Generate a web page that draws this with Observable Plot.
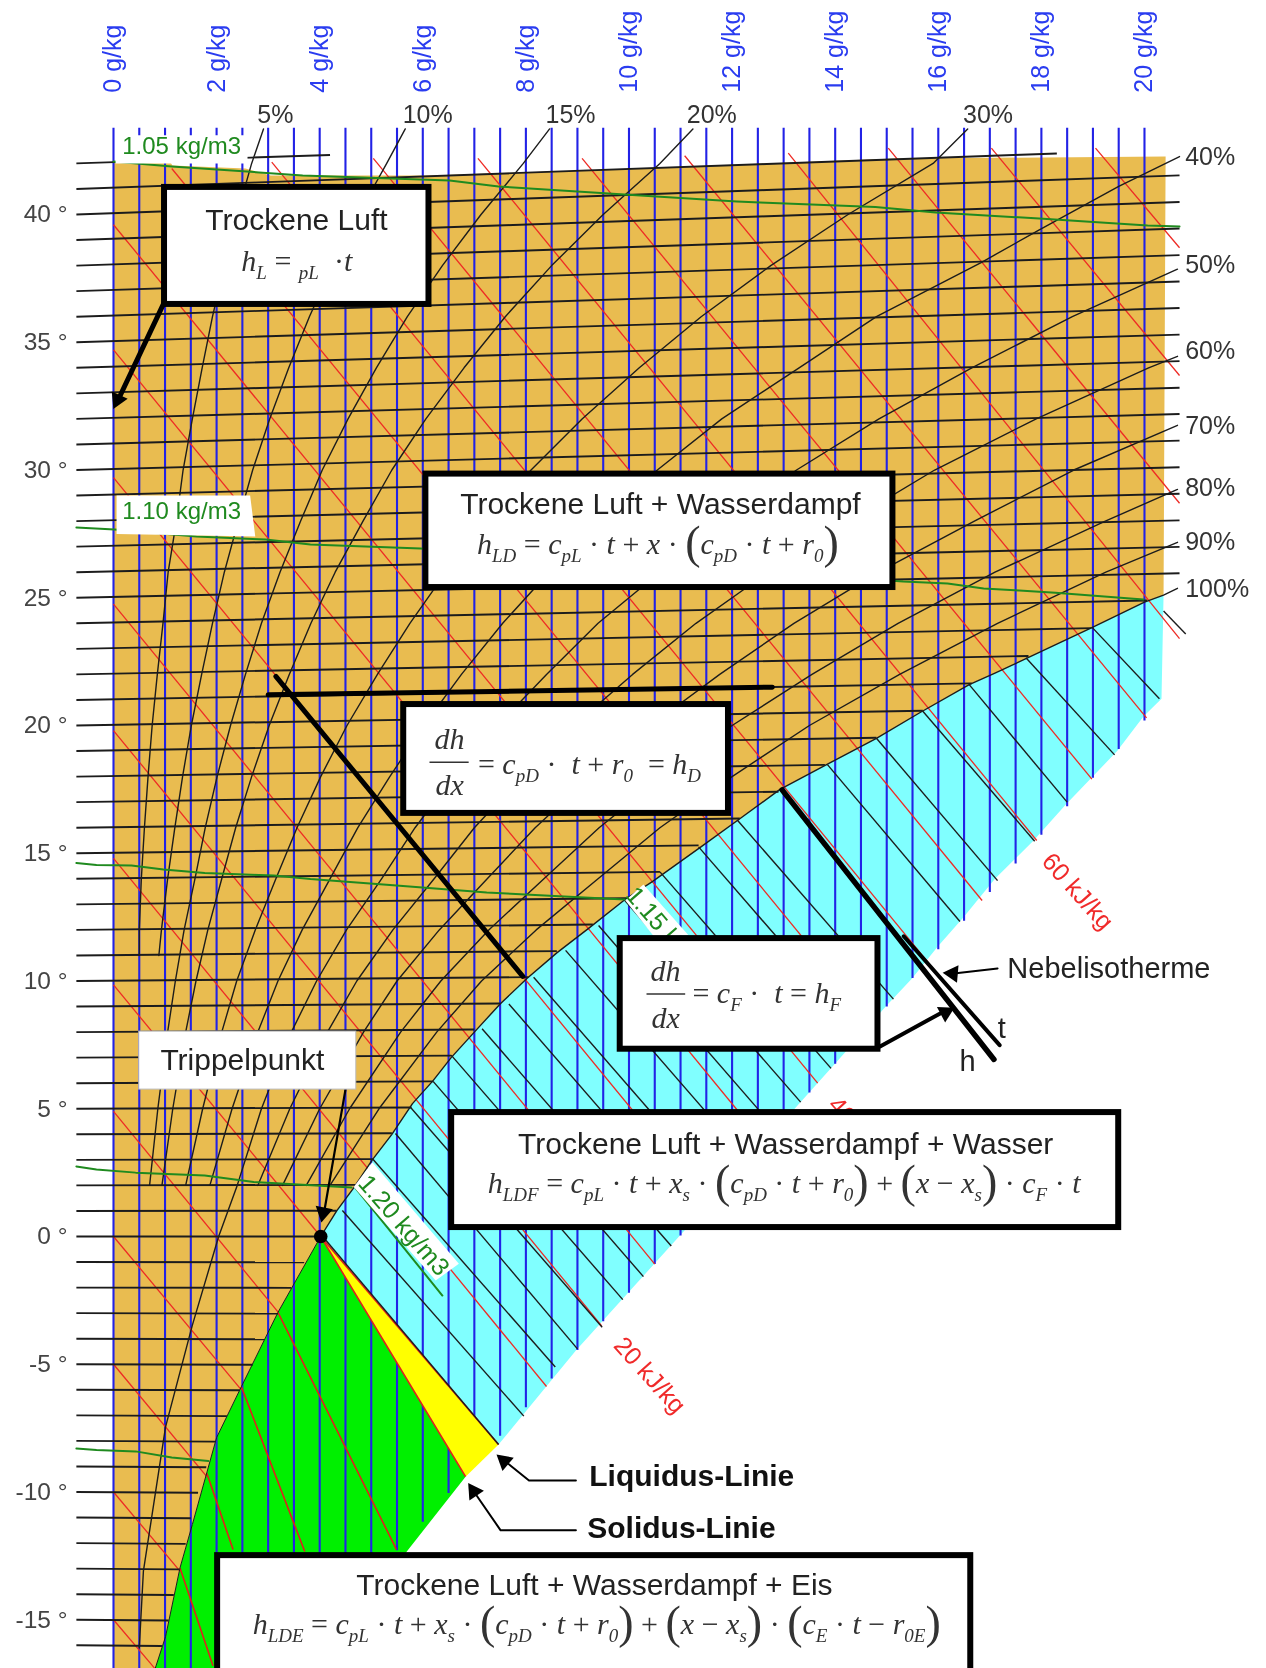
<!DOCTYPE html>
<html><head><meta charset="utf-8">
<script src="https://cdn.jsdelivr.net/npm/d3@7"></script>
<script src="https://cdn.jsdelivr.net/npm/@observablehq/plot@0.6"></script>
<style>html,body{margin:0;padding:0;background:#fff}svg{display:block;filter:blur(0.45px)}</style>
</head><body><div id="chart"></div>
<script>
// --- grid values: x in g/kg, Y in degrees of the chart's vertical axis
const blueX=[0,.5,1,1.5,2,2.5,3,3.5,4,4.5,5,5.5,6,6.5,7,7.5,8,8.5,9,9.5,10,10.5,11,11.5,12,12.5,13,13.5,14,14.5,15,15.5,16,16.5,17,17.5,18,18.5,19,19.5,20];
const blueBottom=[-17,-17,-17,-17,-17,-17,-17,-16.76,-15.64,-14.52,-13.4,-12.28,-11.16,-10.04,-8.92,-7.8,-6.68,-5.56,-4.44,-3.32,-2.2,-1.08,.04,1.16,2.28,3.4,4.52,5.64,6.76,7.88,9,10.12,11.24,12.36,13.48,14.6,15.72,16.84,17.96,19.08,20.2];
const blueTop=43.4;
const isoT=[42,41,40,39,38,37,36,35,34,33,32,31,30,29,28,27,26,25,24,23,22,21,20,19,18,17,16,15,14,13,12,11,10,9,8,7,6,5,4,3,2,1,0,-1,-2,-3,-4,-5,-6,-7,-8,-9,-10,-11,-12,-13,-14,-15,-16];
const isoXEnd=[4.2,18.3,20.68,20.68,20.68,20.68,20.68,20.68,20.68,20.68,20.68,20.68,20.68,20.68,20.68,20.68,20.68,20.68,20.05,18.97,17.75,16.65,15.7,14.8,13.8,12.9,12.15,11.35,10.6,9.95,9.3,8.6,8.05,7.5,7,6.55,6.2,5.78,5.4,5.02,4.7,4.33,4.02,3.7,3.45,3.19,2.93,2.7,2.45,2.2,1.97,1.8,1.64,1.5,1.4,1.27,1.17,1.07,.94];
const isoYEnd=[42.33,42.39,41.53,40.49,39.45,38.41,37.38,36.34,35.3,34.26,33.22,32.19,31.15,30.11,29.07,28.03,26.99,25.96,24.89,23.81,22.72,21.65,20.58,19.52,18.46,17.41,16.36,15.31,14.27,13.24,12.21,11.17,10.15,9.12,8.1,7.08,6.07,5.05,4.04,3.03,2.02,1.01,0,-1.01,-2.01,-3.02,-4.02,-5.02,-6.02,-7.03,-8.03,-9.03,-10.03,-11.03,-12.03,-13.03,-14.03,-15.03,-16.03];
const isoXStart=-.72;
const redX1=[0,0,0,0,0,0,0,0,0,0,0,0,1.13,3.07,5.04,7.07,9.09,11.08,13.09,15.03,17.03,19.05];
const redY1=[-15,-10,-5,0,4.9,9.85,14.8,19.8,24.75,29.7,34.7,39.6,41.8,42.05,42.2,42.2,42.2,42.3,42.4,42.6,42.6,42.6];
const redX2=[.8,1.29,1.81,2.48,3.19,4.02,8.4,9.47,10.5,11.55,12.62,13.66,14.72,15.79,16.85,17.91,18.98,20.04,20.68,20.68,20.68,20.68];
const redY2=[-16.9,-13.1,-9.4,-6,-2.95,0,-5.87,-3.5,-1.08,1.3,3.67,6,8.38,10.76,13.15,15.5,17.9,20.3,23.4,28.7,33.7,38.7];
const iceRedX1=[4.02,4.02,3.19,2.48,1.81,1.29];
const iceRedY1=[0,0,-2.97,-5.88,-9.27,-12.97];
const iceRedX2=[6.83,7.47,5.49,3.71,2.32,1.93];
const iceRedY2=[-9.4,-8.14,-12.25,-12.33,-12.25,-16.8];
const fogX1=[4.1,4.44,5.02,5.47,5.76,6.2,6.55,7.15,7.67,8.15,8.77,9.41,9.9,10.6,11.35,12.1,13.85,14.8,15.7,16.6,17.7,18.98,20.37];
const fogY1=[-.1,1.02,3.05,4.03,5.06,6.07,7.1,8.13,9.1,10.15,11.2,12.17,13.2,14.27,15.25,16.3,18.47,19.5,20.56,21.6,22.65,23.85,24.48];
const fogX2=[7.47,7.96,8.57,9,9.48,9.88,10.28,10.82,11.29,11.77,12.31,12.85,13.33,13.92,14.51,15.13,16.42,17.15,17.87,18.5,19.42,20.29,20.8];
const fogY2=[-8.14,-7.03,-5.11,-4.4,-3.55,-2.47,-1.57,-.37,.69,1.76,2.98,4.18,5.26,6.58,7.9,9.29,12.33,13.93,15.47,17,18.85,21.05,23.58];
// saturation (100 %) and ice curves
const satX=[4.02,4.33,4.66,5.02,5.4,5.8,6.2,6.55,7,7.5,8.02,8.6,9.21,9.93,10.46,11.43,12.15,12.93,13.86,14.8,15.64,16.6,17.1,18,19,20,20.37,20.64];
const satY=[0,1,1.9,3,4,5.2,6.1,7,8,9.1,10.1,11.1,12.05,13.2,13.9,15.3,16.35,17.5,18.5,19.5,20.5,21.6,22.05,22.9,23.85,24.83,25.1,25.37];
const iceX=[4.02,3.19,2.48,2,1.53,1.29,1.01,.81];
const iceY=[0,-2.97,-5.88,-7.87,-11.27,-12.97,-15.66,-16.9];
const lowX=[20.33,19.98,19.47,18.47,17.85,17.1,16.49,15.99,15.49,14.98,13.97,13.2,8.97,7.47];
const lowY=[21.05,20.35,19,16.9,15.5,14,12.5,11.35,10.1,9,6.7,4.97,-4.46,-8.14];
const topX=[0,1.1,1.14,2.56,3.05,6.15,10.22,15.17,20.41];
const topY=[42.07,42.07,41.92,41.8,41.53,41.53,41.8,42.19,42.27];
const greenLowX=[6.83,5.72,3.87,.81], greenLowY=[-9.4,-12.25,-17,-17];
// relative humidity curves
const hY=[2,5,8,10,12,14,16,18,20,22,24,26,28,30,32,34,36,38,40,42,43.35];
const phi5Y=[11,12,14,16,18,20,22,24,26,28,30,32,34,36,38,40,42,43.35];
const phi5X=[.5,.5,.54,.6,.67,.75,.85,.96,1.06,1.22,1.35,1.53,1.72,1.92,2.15,2.4,2.68,2.91];
const phi10Y=[11,12,14,16,18,20,22,24,26,28,30,32,34,36,38,40,42,43.35];
const phi10X=[.88,.93,1.05,1.19,1.34,1.51,1.71,1.92,2.15,2.42,2.7,3.03,3.4,3.8,4.25,4.75,5.3,5.66];
const phi15X=[.7,.86,1.05,1.2,1.37,1.58,1.78,2.01,2.27,2.56,2.87,3.23,3.63,4.05,4.55,5.1,5.7,6.38,7.13,7.95,8.46];
const phi20X=[.94,1.15,1.4,1.6,1.83,2.1,2.37,2.68,3.02,3.41,3.83,4.3,4.84,5.4,6.06,6.8,7.6,8.5,9.5,10.6,11.24];
const phi30X=[1.4,1.73,2.1,2.39,2.75,3.15,3.56,4.02,4.53,5.12,5.75,6.45,7.26,8.1,9.09,10.2,11.4,12.75,14.25,15.9,16.57];
const phi40Y=[2,5,8,10,12,14,16,18,20,22,24,26,28,30,32,34,36,38.13,39.4,41.1,42.27];
const phi40X=[1.87,2.3,2.8,3.19,3.66,4.2,4.74,5.36,6.02,6.75,7.55,8.45,9.5,10.55,11.8,13.3,14.8,16.84,17.96,19.5,20.68];
const phi50Y=[-16.1,-13.1,-7.45,-3.47,0,2,5,8,10,12,14,16,18,20,22,24,26,28,30,32,34,36,37.86];
const phi50X=[.5,.58,1.01,1.53,2.04,2.4,2.87,3.45,3.94,4.52,5.2,5.85,6.6,7.45,8.4,9.4,10.6,11.9,13.25,14.85,16.65,18.6,20.64];
const phi60Y=[2,5,8,10,12,14,16,18,20,22,24,26,28,30,32,34,34.45];
const phi60X=[2.8,3.42,4.15,4.72,5.42,6.22,7,7.92,8.93,10.07,11.3,12.7,14.28,15.93,17.9,20.08,20.64];
const phi70Y=[2,5,8,10,12,14,16,18,20,22,24,26,28,30,31.75];
const phi70X=[3.28,4,4.85,5.5,6.32,7.25,8.18,9.25,10.42,11.76,13.2,14.84,16.7,18.63,20.64];
const phi80Y=[2,5,8,10,12,14,16,18,20,22,24,26,28,29.24];
const phi80X=[3.74,4.58,5.57,6.35,7.28,8.35,9.42,10.65,12,13.55,15.22,17.1,19.24,20.64];
const phi90Y=[2,5,8,10,12,14,16,18,20,22,24,26,27.17];
const phi90X=[4.2,5.15,6.27,7.14,8.2,9.4,10.6,12,13.5,15.25,17.15,19.25,20.64];
// density lines
const d105X=[0,1.13,3.67,6.52,7.47,10.22,12.09,14.78,15.95,17.96,20.06,20.68];
const d105Y=[42.07,41.88,41.53,41.33,41.1,40.74,40.51,40.29,40.08,39.84,39.57,39.53];
const d110X=[-.72,.02,1.61,2.95,3.82,5.96,15.32,16.18,16.88,17.57,18.27,19.98];
const d110Y=[27.75,27.67,27.4,27.28,27.08,26.93,25.64,25.56,25.36,25.28,25.2,24.93];
const d115X=[-.72,-.33,.35,.97,1.77,3.11,3.82,5.49,7.24,8.65,9.92];
const d115Y=[14.62,14.54,14.52,14.36,14.23,14.13,13.99,13.74,13.46,13.32,13.19];
const d120X=[-.72,-.33,.43,1.77,2.72,4.62];
const d120Y=[2.74,2.62,2.5,2.39,2.13,1.92];
const d120bX=[4.7,6.38], d120bY=[1.88,-2.31];
const d115bX=[10.0,10.5], d115bY=[13.08,11.9];
const d125X=[-.72,-.33,.43,1.13,1.84];
const d125Y=[-8.3,-8.36,-8.41,-8.65,-8.79];
// labels
const xTicks=[0,2,4,6,8,10,12,14,16,18,20];
const xTickLabels=["0 g/kg","2 g/kg","4 g/kg","6 g/kg","8 g/kg","10 g/kg","12 g/kg","14 g/kg","16 g/kg","18 g/kg","20 g/kg"];
const xTickY=44.77;
const yTicks=[40,35,30,25,20,15,10,5,0,-5,-10,-15];
const yTickLabels=["40 °","35 °","30 °","25 °","20 °","15 °","10 °","5 °","0 °","-5 °","-10 °","-15 °"];
const yTickX=-.892;
const pctLabels=["5%","10%","15%","20%","30%","40%","50%","60%","70%","80%","90%","100%"];
const pctX=[2.79,5.61,8.38,11.12,16.48,20.79,20.79,20.79,20.79,20.79,20.79,20.79];
const pctY=[43.91,43.91,43.91,43.91,43.91,42.27,38.04,34.64,31.74,29.31,27.2,25.36];
const boxes=[[.99,6.12,41.06,36.48],[6.06,15.12,29.84,25.4],[5.63,11.93,20.82,16.56],[9.83,14.83,11.66,7.33],[6.56,19.5,4.85,.35],[2.02,16.63,-12.49,-17.2]];
const tripelBox=[.5,4.71,8.02,5.75];
const titles=["Trockene Luft","Trockene Luft + Wasserdampf","Trockene Luft + Wasserdampf + Wasser","Trockene Luft + Wasserdampf + Eis","Trippelpunkt"];
const titleX=[3.55,10.61,13.04,9.33,2.5];
const titleY=[39.78,28.65,3.61,-13.67,6.89];
const formulas=["h_{L} = _{pL}  ·t","h_{LD} = c_{pL} · t + x · (c_{pD} · t + r_{0})","= c_{pD} ·  t + r_{0}  = h_{D}","= c_{F} ·  t = h_{F}","h_{LDF} = c_{pL} · t + x_{s} · (c_{pD} · t + r_{0}) + (x − x_{s}) · c_{F} · t","h_{LDE} = c_{pL} · t + x_{s} · (c_{pD} · t + r_{0}) + (x − x_{s}) · (c_{E} · t − r_{0E})"];
const formulaX=[2.48,7.05,7.07,11.23,7.26,2.7];
const formulaY=[38.17,27.1,18.47,9.5,2.07,-15.2];
const fracText=["dh","dx","dh","dx"], fracX=[6.52,6.52,10.71,10.71], fracY=[19.47,17.67,10.36,8.52];
const fracRuleX1=[6.13,10.34], fracRuleX2=[6.89,11.09], fracRuleY=[18.56,9.49];
const boldText=["Liquidus-Linie","Solidus-Linie"], boldX=[9.23,9.19], boldY=[-9.38,-11.43];
const noteText=["Nebelisotherme"], noteX=[17.34], noteY=[10.49];
const letterText=["t","h"], letterX=[17.23,16.57], letterY=[8.14,6.85];
const enthText=["60 kJ/kg","20 kJ/kg"], enthX=[18.7,10.4], enthY=[13.5,-5.44];
const enth40=["40 kJ/kg"], enth40X=[13.95], enth40Y=[5.32];
const rhoText=["1.05 kg/m3","1.10 kg/m3"], rhoX=[.17,.17], rhoY=[42.65,28.4];
const rho120="1.20 kg/m3", rho120X=5.63, rho120Y=.43;
const rho115="1.15 kg/m3", rho115X=10.03, rho115Y=13.54;
const patchA=[[5.02,2.91],[6.7,-1.07],[6.25,-1.72],[4.66,1.94]];
const patchB=[[10.28,13.78],[11.15,11.8],[10.5,11.7],[9.93,13.15]];
const patchC=[[.06,29.0],[2.65,29.0],[2.75,27.4],[.06,27.5]];
const patchD=[[.04,43.1],[2.6,43.1],[2.6,42.0],[.04,42.0]];
// thick annotation lines
const thick=[[[3,21.2],[12.78,21.5]],[[3.15,21.92],[7.94,10.18]],[[12.97,17.48],[17.08,6.93]],[[15.33,11.75],[17.19,7.49]]];
const thickW=[5,5,5.5,4];
const leaders=[[[.97,36.5],[.08,32.7]],[[4.5,5.75],[4.09,1]],[[8.97,-9.55],[8.06,-9.55],[7.58,-8.77]],[[8.97,-11.5],[7.51,-11.5],[6.99,-9.98]],[[17.15,10.49],[16.3,10.29]],[[14.87,7.44],[16.1,8.8]]];
const leaderW=[5,2.2,2,2,2,4];
const headX=[.08,4.07,7.58,6.99,16.28,16.14], headY=[32.75,.94,-8.79,-9.98,10.29,8.77], headR=[-155,-169,-50,-34,-85,62];
const dotX=[4.02], dotY=[0];

const zip=(a,b)=>a.map((v,i)=>({x:v,y:b[i]}));
const P=a=>a.map(p=>({x:p[0],y:p[1]}));
const idx=a=>a.map((_,i)=>i);
const poly=(pts,fill)=>Plot.line(pts,{x:"x",y:"y",fill,stroke:"none",curve:"linear"});
const sat=zip(satX,satY).slice(0,-1);
const ORANGE="#E9BC50",CYAN="#80FFFF",GREEN="#00F000",YELLOW="#FFFF00",BLUE="#2222E6",RED="#EE2A24",DARK="#1c1c1c",DGREEN="#1F8A1F";
const sans="Liberation Sans", serif="Liberation Serif";

const orange=[...zip(topX,topY),...sat.slice().reverse(),...zip(iceX,iceY).slice(1),{x:0,y:-17}];
const cyan=[...sat,...zip(lowX,lowY)];
const yellow=[{x:4.02,y:0},{x:7.47,y:-8.14},{x:6.83,y:-9.4}];
const greenPoly=[{x:4.02,y:0},{x:6.83,y:-9.4},...zip(greenLowX,greenLowY).slice(1),...zip(iceX,iceY).slice().reverse()];

const phi=[zip(phi5X,phi5Y),zip(phi10X,phi10Y),zip(phi15X,hY),zip(phi20X,hY),zip(phi30X,hY),zip(phi40X,phi40Y),zip(phi50X,phi50Y),zip(phi60X,phi60Y),zip(phi70X,phi70Y),zip(phi80X,phi80Y),zip(phi90X,phi90Y),zip(satX,satY)];
const rho=[zip(d105X,d105Y),zip(d110X,d110Y),zip(d115X,d115Y),zip(d120X,d120Y),zip(d125X,d125Y),zip(d120bX,d120bY),zip(d115bX,d115bY)];

const plot=Plot.plot({
 width:1266,height:1668,margin:0,
 style:{background:"#fff",overflow:"hidden"},
 x:{domain:[-2.192,22.367],range:[0,1266],axis:null},
 y:{domain:[-16.908,48.376],range:[1668,0],axis:null},
 marks:[
  poly(orange,ORANGE),poly(cyan,CYAN),poly(greenPoly,GREEN),
  Plot.link(idx(blueX),{x1:i=>blueX[i],x2:i=>blueX[i],y1:()=>blueTop,y2:i=>blueBottom[i],stroke:BLUE,strokeWidth:2.1}),
  poly(yellow,YELLOW),
  Plot.link(idx(redX1),{x1:i=>redX1[i],y1:i=>redY1[i],x2:i=>redX2[i],y2:i=>redY2[i],stroke:RED,strokeWidth:1.3}),
  Plot.link(idx(iceRedX1),{x1:i=>iceRedX1[i],y1:i=>iceRedY1[i],x2:i=>iceRedX2[i],y2:i=>iceRedY2[i],stroke:"#E0201C",strokeWidth:1.6}),
  Plot.link(idx(fogX1),{x1:i=>fogX1[i],y1:i=>fogY1[i],x2:i=>fogX2[i],y2:i=>fogY2[i],stroke:DARK,strokeWidth:1.4}),
  Plot.link(idx(isoT),{x1:isoXStart,y1:i=>isoT[i],x2:i=>isoXEnd[i],y2:i=>isoYEnd[i],stroke:DARK,strokeWidth:1.9}),
  Plot.line(zip(iceX,iceY),{x:"x",y:"y",stroke:DARK,strokeWidth:1}),
  ...phi.map(c=>Plot.line(c,{x:"x",y:"y",stroke:DARK,strokeWidth:1.4})),
  ...rho.map(c=>Plot.line(c,{x:"x",y:"y",stroke:DGREEN,strokeWidth:2})),
  poly(P(patchA),"#fff"),poly(P(patchB),"#fff"),poly(P(patchC),"#fff"),poly(P(patchD),"#fff"),
  // text on the chart
  Plot.text(idx(xTicks),{x:i=>xTicks[i],y:xTickY,text:i=>xTickLabels[i],rotate:-90,textAnchor:"start",fill:"#2A3CF0",fontSize:25,fontFamily:sans}),
  Plot.text(idx(yTicks),{x:yTickX,y:i=>yTicks[i],text:i=>yTickLabels[i],textAnchor:"end",fill:"#444",fontSize:24.5,fontFamily:sans}),
  Plot.text(idx(pctLabels),{x:i=>pctX[i],y:i=>pctY[i],text:i=>pctLabels[i],textAnchor:"start",fill:"#333",fontSize:25,fontFamily:sans}),
  Plot.text(idx(rhoText),{x:i=>rhoX[i],y:i=>rhoY[i],text:i=>rhoText[i],textAnchor:"start",fill:DGREEN,fontSize:24,fontFamily:sans}),
  Plot.text([rho120],{x:rho120X,y:rho120Y,text:d=>d,rotate:49,fill:DGREEN,fontSize:25,fontFamily:sans}),
  Plot.text([rho115],{x:rho115X,y:rho115Y,text:d=>d,rotate:49,textAnchor:"start",fill:DGREEN,fontSize:25,fontFamily:sans}),
  Plot.text(idx(enthText),{x:i=>enthX[i],y:i=>enthY[i],text:i=>enthText[i],rotate:48,fill:"#F02A2A",fontSize:25,fontFamily:sans}),
  Plot.text(enth40,{x:enth40X[0],y:enth40Y[0],text:d=>d,rotate:48,textAnchor:"start",fill:"#F02A2A",fontSize:25,fontFamily:sans}),
  // thick annotation lines
  ...thick.map((t,i)=>Plot.line(P(t),{x:"x",y:"y",stroke:"#000",strokeWidth:thickW[i]})),
  ...leaders.map((t,i)=>Plot.line(P(t),{x:"x",y:"y",stroke:"#000",strokeWidth:leaderW[i]})),
  Plot.dot(idx(headX),{x:i=>headX[i],y:i=>headY[i],symbol:"triangle",r:6.5,rotate:i=>headR[i],fill:"#000",stroke:"none"}),
  Plot.dot(idx(dotX),{x:i=>dotX[i],y:i=>dotY[i],r:6.8,fill:"#000"}),
  // boxes
  Plot.rect(boxes,{x1:d=>d[0],x2:d=>d[1],y1:d=>d[2],y2:d=>d[3],fill:"#fff",stroke:"#000",strokeWidth:6}),
  Plot.rect([tripelBox],{x1:d=>d[0],x2:d=>d[1],y1:d=>d[2],y2:d=>d[3],fill:"#fff",stroke:"#bbb",strokeWidth:1}),
  Plot.text(idx(titles),{x:i=>titleX[i],y:i=>titleY[i],text:i=>titles[i],fill:"#222",fontSize:30,fontFamily:sans}),
  Plot.text(idx(formulas),{x:i=>formulaX[i],y:i=>formulaY[i],text:i=>formulas[i],textAnchor:"start",fill:"#333",fontSize:30,fontFamily:serif,fontStyle:"italic",className:"formula"}),
  Plot.text(idx(fracText),{x:i=>fracX[i],y:i=>fracY[i],text:i=>fracText[i],fill:"#333",fontSize:30,fontFamily:serif,fontStyle:"italic"}),
  Plot.link(idx(fracRuleX1),{x1:i=>fracRuleX1[i],x2:i=>fracRuleX2[i],y1:i=>fracRuleY[i],y2:i=>fracRuleY[i],stroke:"#333",strokeWidth:1.6}),
  Plot.text(idx(boldText),{x:i=>boldX[i],y:i=>boldY[i],text:i=>boldText[i],textAnchor:"start",fill:"#111",fontSize:30,fontWeight:"bold",fontFamily:sans}),
  Plot.text(idx(noteText),{x:i=>noteX[i],y:i=>noteY[i],text:i=>noteText[i],textAnchor:"start",fill:"#222",fontSize:29,fontFamily:sans}),
  Plot.text(idx(letterText),{x:i=>letterX[i],y:i=>letterY[i],text:i=>letterText[i],fill:"#222",fontSize:29,fontFamily:sans})
 ]
});
// subscripts and tall brackets inside the formula strings
plot.querySelectorAll(".formula text").forEach(el=>{
  const src=el.textContent; el.textContent=""; el.style.whiteSpace="pre";
  const NS="http://www.w3.org/2000/svg"; let pending=0;
  src.split(/(_\{[^}]*\}|[()=+·−])/).filter(s=>s!=="").forEach(tok=>{
    const ts=document.createElementNS(NS,"tspan"); let shift=0;
    if(tok.startsWith("_{")){ts.textContent=tok.slice(2,-1);ts.setAttribute("font-size","19");shift=8;}
    else if(tok==="("||tok===")"){ts.textContent=tok;ts.setAttribute("font-size","46");ts.setAttribute("font-style","normal");ts.setAttribute("font-weight","200");shift=4;}
    else if(/[=+·−]/.test(tok)){ts.textContent=tok;ts.setAttribute("font-style","normal");}
    else ts.textContent=tok;
    const dy=shift-pending; if(dy)ts.setAttribute("dy",dy); pending=shift;
    el.appendChild(ts);
  });
});
document.getElementById("chart").appendChild(plot);
</script></body></html>
